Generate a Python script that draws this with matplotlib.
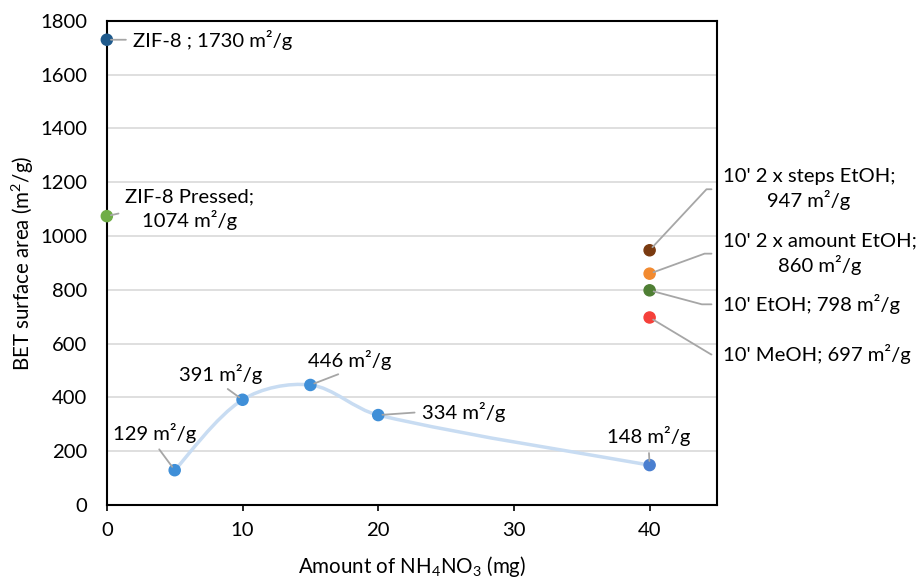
import numpy as np
import matplotlib
matplotlib.use('Agg')
import matplotlib.pyplot as plt
from matplotlib.path import Path
from matplotlib.patches import PathPatch

plt.rcParams['font.family'] = ['Lato', 'DejaVu Sans']
plt.rcParams['mathtext.fontset'] = 'custom'
plt.rcParams['mathtext.rm'] = 'Lato'
plt.rcParams['mathtext.it'] = 'Lato:italic'

# NH4NO3 series
amount_mg = [5, 10, 15, 20, 40]
bet_area = [129, 391, 446, 334, 148]
series_labels = ['129 m²/g', '391 m²/g', '446 m²/g', '334 m²/g', '148 m²/g']

# reference samples at 0 mg
ref_x = [0, 0]
ref_y = [1730, 1074]
ref_labels = ['ZIF-8 ; 1730 m²/g', 'ZIF-8 Pressed;\n1074 m²/g']
ref_colors = ['#1f5a8c', '#70ad47']

# solvent-treated samples at 40 mg
solv_x = [40, 40, 40, 40]
solv_y = [947, 860, 798, 697]
solv_labels = ["10' 2 x steps EtOH;\n947 m²/g", "10' 2 x amount EtOH;\n860 m²/g",
               "10' EtOH; 798 m²/g", "10' MeOH; 697 m²/g"]
solv_colors = ['#7a3a10', '#f28a30', '#4f7f34', '#f5403a']

FS = 14.6

fig = plt.figure(figsize=(9.21, 5.81), dpi=100)
ax = fig.add_axes([0.116, 0.131, 0.663, 0.833])
ax.set_xlim(0, 45)
ax.set_ylim(0, 1800)
ax.set_yticks(range(0, 1801, 200))
ax.set_xticks([0, 10, 20, 30, 40])
ax.grid(axis='y', color='#d9d9d9', lw=1.2)
ax.set_axisbelow(True)
for s in ax.spines.values():
    s.set_color('black')
    s.set_linewidth(1.5)
ax.tick_params(axis='y', length=0, labelsize=FS, pad=14)
ax.tick_params(axis='x', direction='out', length=4, width=1.2, labelsize=FS, pad=8)
ax.set_ylabel('BET surface area (m$^2$/g)', fontsize=14.8, labelpad=3)
ax.set_xlabel('Amount of NH$_4$NO$_3$ (mg)', fontsize=14.8, labelpad=11)

# smoothed line: bezier through the points, tangents scaled by pixel segment length
pts = np.column_stack([amount_mg, bet_area]).astype(float)
pix = pts * [610 / 45, 484 / 1800]
n = len(pts)
seg = [np.hypot(*(pix[i + 1] - pix[i])) for i in range(n - 1)]
verts = [pts[0]]
codes = [Path.MOVETO]
for i in range(n - 1):
    p0 = pts[max(i - 1, 0)]
    p1 = pts[i]
    p2 = pts[i + 1]
    p3 = pts[min(i + 2, n - 1)]
    d0 = seg[i - 1] if i > 0 else seg[i]
    d1 = seg[i]
    d2 = seg[i + 1] if i < n - 2 else seg[i]
    c1 = p1 + (p2 - p0) * d1 / (d0 + d1) / 3
    c2 = p2 - (p3 - p1) * d1 / (d1 + d2) / 3
    verts += [c1, c2, p2]
    codes += [Path.CURVE4] * 3
ax.add_patch(PathPatch(Path(verts, codes), fc='none', ec='#c8dcf2', lw=2.5, zorder=2))

series_colors = ['#3f8fd8', '#3f8fd8', '#3f8fd8', '#3f8fd8', '#4a7fd0']
ax.scatter(amount_mg, bet_area, s=64, c=series_colors, zorder=3)
ax.scatter(ref_x, ref_y, s=64, c=ref_colors, zorder=3, clip_on=False)
ax.scatter(solv_x, solv_y, s=64, c=solv_colors, zorder=3)

lead = dict(arrowstyle='-', color='#a6a6a6', lw=1.3, shrinkA=3, shrinkB=3)

series_offsets = [(-20, 37), (-22, 26), (39, 25), (85, 3), (-1, 29)]
series_relpos = [(0.5, 0), (0.5, 0), (0.5, 0), (0, 0.5), (0.5, 0)]
for x, y, lab, off, rp in zip(amount_mg, bet_area, series_labels, series_offsets, series_relpos):
    ax.annotate(lab, (x, y), xytext=off, textcoords='offset pixels',
                ha='center', va='center', fontsize=FS,
                arrowprops=dict(lead, relpos=rp), zorder=4)

ax.annotate(ref_labels[0], (ref_x[0], ref_y[0]), xytext=(26, 0), textcoords='offset pixels',
            ha='left', va='center', fontsize=FS, annotation_clip=False,
            arrowprops=dict(lead, relpos=(0, 0.5)))
ax.annotate(ref_labels[1], (ref_x[1], ref_y[1]), xytext=(83, 7), textcoords='offset pixels',
            ha='center', va='center', fontsize=FS, multialignment='center', linespacing=1.3,
            annotation_clip=False, arrowprops=dict(lead, relpos=(0.1, 0.5)))

solv_offsets = [(73, 61), (73, 20), (73, -14), (73, -37)]
solv_angles = [47, 20, -15, -31]
for x, y, lab, off, ang in zip(solv_x, solv_y, solv_labels, solv_offsets, solv_angles):
    ax.annotate(lab, (x, y), xytext=off, textcoords='offset pixels',
                ha='left', va='center', fontsize=FS, multialignment='center', linespacing=1.3,
                annotation_clip=False,
                arrowprops=dict(lead, relpos=(0, 0.5), shrinkA=6,
                                connectionstyle='angle,angleA=0,angleB=%d,rad=0' % ang))

fig.savefig('out.png', dpi=100)
